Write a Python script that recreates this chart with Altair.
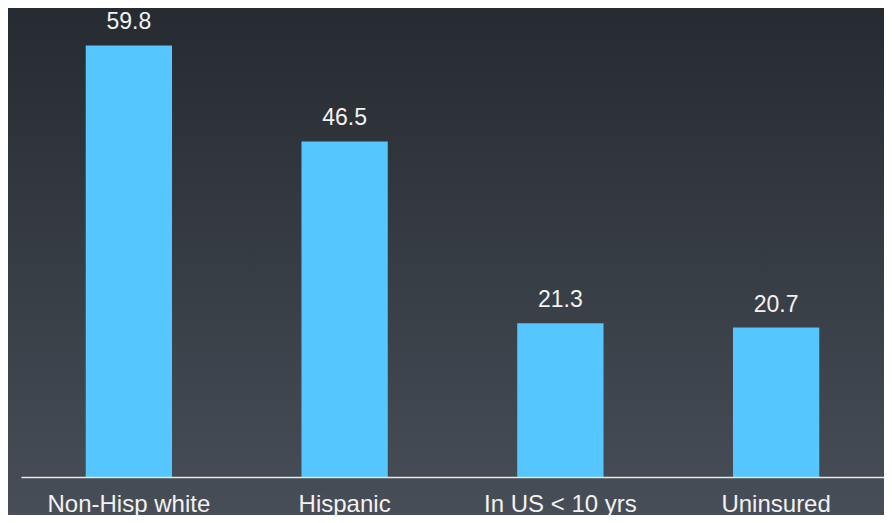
import altair as alt
import pandas as pd

categories = ["Non-Hisp white", "Hispanic", "In US < 10 yrs", "Uninsured"]
values = [59.8, 46.5, 21.3, 20.7]
labels = ["59.8", "46.5", "21.3", "20.7"]

df = pd.DataFrame({"cat": categories, "val": values, "lab": labels})

FONT = "Liberation Sans"

bg = alt.Chart(alt.Data(values=[{"a": 1}])).mark_rect(
    color=alt.LinearGradient(
        gradient="linear",
        stops=[alt.GradientStop(color="#262b31", offset=0),
               alt.GradientStop(color="#474e57", offset=1)],
        x1=0, x2=0, y1=0, y2=1,
    )
).encode(
    x=alt.value(-13), x2=alt.value(863), y=alt.value(-36), y2=alt.value(471)
)

xenc = alt.X(
    "cat:N", sort=categories, title=None,
    scale=alt.Scale(paddingInner=0.6, paddingOuter=0.3),
    axis=alt.Axis(labelAngle=0, ticks=False, grid=False, domainColor="#e8e8e8",
                  domainWidth=1.5, labelColor="#f2f2f2", labelFontSize=24,
                  labelFont=FONT, labelBaseline="alphabetic", labelPadding=34,
                  zindex=2),
)
yenc = alt.Y("val:Q", scale=alt.Scale(domain=[0, 60]), axis=None)

bars = alt.Chart(df).mark_bar(color="#55C6FE").encode(x=xenc, y=yenc)
text = alt.Chart(df).mark_text(
    dy=-16, baseline="alphabetic", fontSize=23, font=FONT, color="#f2f2f2"
).encode(x=alt.X("cat:N", sort=categories), y="val:Q", text="lab:N")

chart = alt.layer(bg, bars, text).properties(
    width=863, height=433,
    padding={"left": 13, "top": 36, "right": 0, "bottom": 38},
    autosize=alt.AutoSizeParams(type="none"),
    background="#3a4048",
).configure_view(strokeWidth=0)

chart.save("out.html", embed_options={"renderer": "svg", "actions": False})
